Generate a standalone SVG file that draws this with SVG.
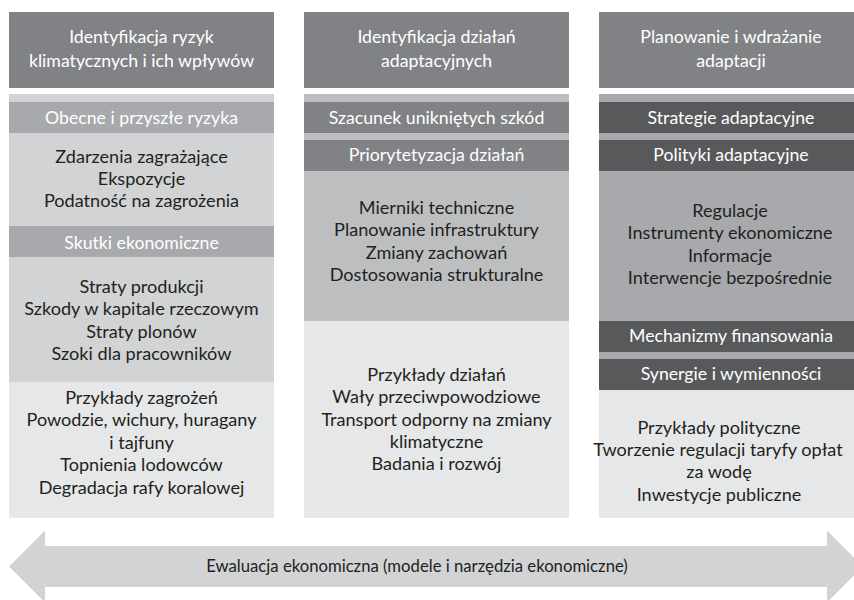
<svg xmlns="http://www.w3.org/2000/svg" width="854" height="600" viewBox="0 0 854 600">
<style>
text{font-family:Lato,"Open Sans","Liberation Sans",sans-serif;font-size:18.1px;text-anchor:middle}
.w{fill:#ffffff;font-size:17.7px}
.d{fill:#231f20}
.hdr{fill:#808285}
.c1l{fill:#d1d3d4}.c1b{fill:#a7a9ac}
.c2l{fill:#bcbec0}.c2b{fill:#808285}
.c3l{fill:#a7a9ac}.c3b{fill:#58595b}
.bot{fill:#e6e7e8}
</style>
<rect width="854" height="600" fill="#ffffff"/>
<g id="col1">
<rect class="hdr" x="9" y="12" width="265" height="76"/>
<text class="w" x="141.5" y="43">Identyfikacja ryzyk</text>
<text class="w" x="141.5" y="67">klimatycznych i ich wpływów</text>
<rect class="c1l" x="9" y="94" width="265" height="288"/>
<rect class="c1b" x="9" y="102" width="265" height="31"/>
<text class="w" x="141.5" y="123.5">Obecne i przyszłe ryzyka</text>
<text class="d" x="141.5" y="162.7">Zdarzenia zagrażające</text>
<text class="d" x="141.5" y="185">Ekspozycje</text>
<text class="d" x="141.5" y="207.3">Podatność na zagrożenia</text>
<rect class="c1b" x="9" y="226" width="265" height="31"/>
<text class="w" x="141.5" y="249">Skutki ekonomiczne</text>
<text class="d" x="141.5" y="293">Straty produkcji</text>
<text class="d" x="141.5" y="315.3">Szkody w kapitale rzeczowym</text>
<text class="d" x="141.5" y="337.6">Straty plonów</text>
<text class="d" x="141.5" y="360">Szoki dla pracowników</text>
<rect class="bot" x="9" y="382" width="265" height="136"/>
<text class="d" x="141.5" y="403.5">Przykłady zagrożeń</text>
<text class="d" x="141.5" y="426">Powodzie, wichury, huragany</text>
<text class="d" x="141.5" y="448.5">i tajfuny</text>
<text class="d" x="141.5" y="471">Topnienia lodowców</text>
<text class="d" x="141.5" y="493.5">Degradacja rafy koralowej</text>
</g>
<g id="col2">
<rect class="hdr" x="304" y="12" width="265" height="76"/>
<text class="w" x="436.5" y="43">Identyfikacja działań</text>
<text class="w" x="436.5" y="67">adaptacyjnych</text>
<rect class="c2l" x="304" y="94" width="265" height="227"/>
<rect class="c2b" x="304" y="102" width="265" height="31"/>
<text class="w" x="436.5" y="123.5">Szacunek unikniętych szkód</text>
<rect class="c2b" x="304" y="140" width="265" height="31"/>
<text class="w" x="436.5" y="161">Priorytetyzacja działań</text>
<text class="d" x="436.5" y="214">Mierniki techniczne</text>
<text class="d" x="436.5" y="236.3">Planowanie infrastruktury</text>
<text class="d" x="436.5" y="258.6">Zmiany zachowań</text>
<text class="d" x="436.5" y="281">Dostosowania strukturalne</text>
<rect class="bot" x="304" y="321" width="265" height="197"/>
<text class="d" x="436.5" y="381">Przykłady działań</text>
<text class="d" x="436.5" y="403.3">Wały przeciwpowodziowe</text>
<text class="d" x="436.5" y="425.6">Transport odporny na zmiany</text>
<text class="d" x="436.5" y="448">klimatyczne</text>
<text class="d" x="436.5" y="470.3">Badania i rozwój</text>
</g>
<g id="col3">
<rect class="hdr" x="599" y="12" width="265" height="76"/>
<text class="w" x="731" y="43">Planowanie i wdrażanie</text>
<text class="w" x="731" y="67">adaptacji</text>
<rect class="c3l" x="599" y="94" width="265" height="296"/>
<rect class="c3b" x="599" y="102" width="265" height="31"/>
<text class="w" x="731" y="123.5">Strategie adaptacyjne</text>
<rect class="c3b" x="599" y="140" width="265" height="31"/>
<text class="w" x="731" y="161">Polityki adaptacyjne</text>
<text class="d" x="730" y="217">Regulacje</text>
<text class="d" x="730" y="239.3">Instrumenty ekonomiczne</text>
<text class="d" x="730" y="261.6">Informacje</text>
<text class="d" x="730" y="284">Interwencje bezpośrednie</text>
<rect class="c3b" x="599" y="321" width="265" height="31"/>
<text class="w" x="731" y="342">Mechanizmy finansowania</text>
<rect class="c3b" x="599" y="359" width="265" height="31"/>
<text class="w" x="731" y="380">Synergie i wymienności</text>
<rect class="bot" x="599" y="390" width="265" height="128"/>
<text class="d" x="719" y="433.5">Przykłady polityczne</text>
<text class="d" x="718" y="456">Tworzenie regulacji taryfy opłat</text>
<text class="d" x="719" y="478.3">za wodę</text>
<text class="d" x="719" y="500.7">Inwestycje publiczne</text>
</g>
<g id="arrow">
<polygon fill="#d1d3d4" points="9,566.5 45,530.5 45,546 827,546 827,530.5 863,566.5 827,602.5 827,587 45,587 45,602.5"/>
<text fill="#231f20" x="417" y="572" style="font-size:16.7px">Ewaluacja ekonomiczna (modele i narzędzia ekonomiczne)</text>
</g>
</svg>
